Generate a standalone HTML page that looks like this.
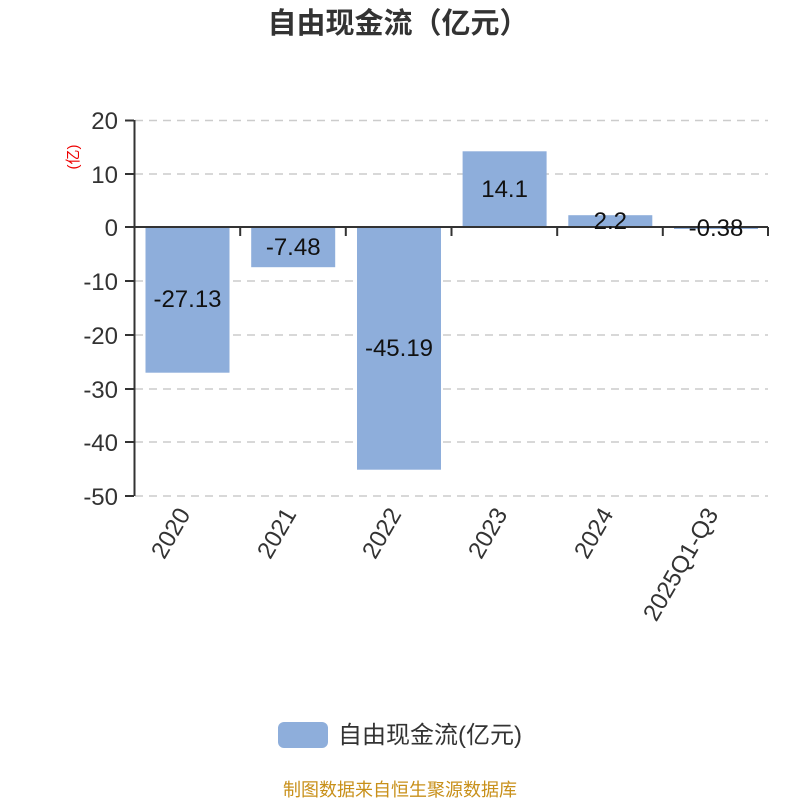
<!DOCTYPE html>
<html><head><meta charset="utf-8"><style>body{margin:0;background:#fff}svg{display:block;font-family:"Liberation Sans","Noto Sans CJK SC",sans-serif}</style></head><body>
<svg width="800" height="800" viewBox="0 0 800 800">
<text x="398" y="33" text-anchor="middle" font-size="29" font-weight="bold" fill="#333">自由现金流（亿元）</text>
<g stroke="#ccc" stroke-width="1.5" stroke-dasharray="8,6">
<line x1="135" y1="120.5" x2="768" y2="120.5"/><line x1="135" y1="174" x2="768" y2="174"/>
<line x1="135" y1="281" x2="768" y2="281"/><line x1="135" y1="335" x2="768" y2="335"/>
<line x1="135" y1="389" x2="768" y2="389"/><line x1="135" y1="442" x2="768" y2="442"/><line x1="135" y1="496" x2="768" y2="496"/>
</g>
<g fill="#8eaedb">
<rect x="145.5" y="227" width="84" height="145.7"/>
<rect x="251.2" y="227" width="84" height="40.2"/>
<rect x="357" y="227" width="84" height="242.7"/>
<rect x="462.6" y="151.3" width="84" height="75.7"/>
<rect x="568.3" y="215.2" width="84" height="11.8"/>
<rect x="674" y="227" width="84" height="2"/>
</g>
<g stroke="#333" stroke-width="2" fill="none">
<line x1="134.5" y1="120" x2="134.5" y2="496"/>
<line x1="134" y1="227" x2="768" y2="227"/>
<path d="M125 120.5H134M125 174H134M125 227H134M125 281H134M125 335H134M125 389H134M125 442H134M125 496H134"/>
<path d="M134.5 227V236M240.2 227V236M345.8 227V236M451.5 227V236M557.2 227V236M662.8 227V236M768 227V236"/>
</g>
<g font-size="24" fill="#333" text-anchor="end">
<text x="118" y="129">20</text><text x="118" y="183">10</text><text x="118" y="236">0</text>
<text x="118" y="290">-10</text><text x="118" y="344">-20</text><text x="118" y="398">-30</text>
<text x="118" y="451">-40</text><text x="118" y="505">-50</text>
</g>
<text transform="translate(78,157) rotate(-90)" text-anchor="middle" font-size="15" fill="#e00">(亿)</text>
<g font-size="24" fill="#111" text-anchor="middle">
<text x="187.5" y="307">-27.13</text><text x="293.2" y="255">-7.48</text>
<text x="399" y="356">-45.19</text><text x="504.6" y="197">14.1</text>
<text x="610.3" y="229">2.2</text><text x="716" y="236">-0.38</text>
</g>
<g font-size="24" fill="#333" text-anchor="end">
<text transform="translate(191,514) rotate(-60)">2020</text>
<text transform="translate(297,514) rotate(-60)">2021</text>
<text transform="translate(402,514) rotate(-60)">2022</text>
<text transform="translate(508,514) rotate(-60)">2023</text>
<text transform="translate(614,514) rotate(-60)">2024</text>
<text transform="translate(719,514) rotate(-60)">2025Q1-Q3</text>
</g>
<rect x="278" y="722" width="50" height="26" rx="6" fill="#8eaedb"/>
<text x="338" y="743" font-size="24" fill="#333">自由现金流(亿元)</text>
<text x="400" y="796" text-anchor="middle" font-size="18" fill="#c8901a">制图数据来自恒生聚源数据库</text>
</svg>
</body></html>
